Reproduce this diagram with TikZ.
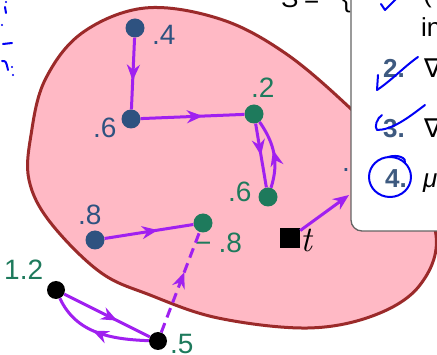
\documentclass[tikz,border=0pt]{standalone}
\usepackage{fontspec}
\setmainfont{Liberation Sans}
\newfontfamily\symfont{DejaVu Sans}
\newfontfamily\lmfont{Latin Modern Roman}
\usetikzlibrary{arrows.meta,decorations.markings}
\definecolor{blobfill}{RGB}{255,185,197}
\definecolor{blobline}{RGB}{155,42,42}
\definecolor{arrcol}{RGB}{160,32,240}
\definecolor{dotblue}{RGB}{46,82,128}
\definecolor{dotgreen}{RGB}{30,122,92}
\definecolor{numblue}{RGB}{62,90,128}
\definecolor{ink}{RGB}{0,0,245}
\definecolor{panelline}{RGB}{100,100,100}
\tikzset{
  bdot/.style={circle,fill=dotblue,inner sep=0pt,minimum size=19pt},
  gdot/.style={circle,fill=dotgreen,inner sep=0pt,minimum size=19pt},
  kdot/.style={circle,fill=black,inner sep=0pt,minimum size=18pt},
  sqnode/.style={rectangle,fill=black,inner sep=0pt,minimum size=20pt},
  lbl/.style={font=\fontsize{28}{28}\selectfont,inner sep=0pt,anchor=base west},
  paneltxt/.style={font=\fontsize{26}{26}\selectfont,inner sep=0pt,anchor=base west},
  edge/.style={draw=arrcol,line width=3pt},
  midarr/.style={postaction={decorate},decoration={markings,
     mark=at position #1 with {\arrow{Stealth[length=16pt,width=13pt]}}}},
  inkline/.style={draw=ink,line width=2pt,line cap=round,line join=round},
}
\begin{document}
\begin{tikzpicture}[x=1pt,y=1pt]
\clip (0,0) rectangle (437,-355);
\fill[white] (0,0) rectangle (437,-355);
% top text (cut off)
\node[paneltxt] (S) at (281,-8) {S};
\node[paneltxt] (eq) at (304,-8) {=};
\node[paneltxt] (br) at (342,-8) {\{};
% blob
\draw[fill=blobfill,draw=blobline,line width=3pt]
  plot[smooth cycle,tension=0.6] coordinates {
  (145,-8) (220,-19) (285,-53) (350,-108) (405,-165) (436,-235) (420,-285)
  (375,-315) (308,-328) (218,-318) (150,-295) (100,-272) (50,-222) (29,-180)
  (31,-135) (45,-80) (82,-33)};
% nodes
\node[bdot] (A) at (135,-28) {};
\node[bdot] (B) at (131,-119) {};
\node[gdot] (C) at (254,-114) {};
\node[gdot] (D) at (268,-197) {};
\node[bdot] (E) at (95,-240) {};
\node[gdot] (F) at (203,-223) {};
\node[kdot] (G) at (56,-290) {};
\node[kdot] (H) at (158,-341) {};
\node[sqnode] (T) at (290,-238) {};
% labels
\node[lbl,text=dotblue] (lA) at (152,-45) {.4};
\node[lbl,text=dotblue] (lB) at (93,-138) {.6};
\node[lbl,text=dotgreen] (lC) at (251,-98) {.2};
\node[lbl,text=dotgreen] (lD) at (228,-202) {.6};
\node[lbl,text=dotblue] (lE) at (78,-225) {.8};
\node[lbl,text=dotgreen] (lF) at (195,-253) {−\kern7pt.8};
\node[lbl,text=dotgreen] (lG) at (4,-280) {1.2};
\node[lbl,text=dotgreen] (lH) at (170,-354) {.5};
\node[inner sep=0pt,anchor=base west,font=\fontsize{36}{36}\selectfont\lmfont\itshape] (lT) at (300,-252) {t};
\node[lbl,text=dotblue] (frag) at (342,-172) {.};
% edges
\path[edge,midarr=0.6] (A) -- (B);
\path[edge,midarr=0.6] (B) -- (C);
\path[edge,midarr=0.5] (C) -- (D);
\path[edge,midarr=0.55] (D) to[out=72,in=-55] (C);
\path[edge,midarr=0.6] (E) -- (F);
\path[edge,dash pattern=on 10pt off 6pt,midarr=0.6] (H) -- (F);
\path[edge,midarr=0.62] (G) -- (H);
\path[edge,midarr=0.55] (H) to[out=178,in=-65] (G);
\coordinate (tend) at (349,-195);
\path[edge,-{Stealth[length=16pt,width=13pt]}] (T) -- (tend);
% overlay panel
\draw[fill=white,draw=panelline,line width=1.3pt,rounded corners=11pt]
  (351,40) rectangle (480,-231);
\node[paneltxt] (p1) at (423,-3) {(};
\node[paneltxt] (p1b) at (421,-37) {in};
\node[paneltxt,text=numblue,font=\fontsize{26}{26}\selectfont\bfseries] (n2) at (383,-78) {2.};
\node[paneltxt,font=\fontsize{26}{26}\selectfont\symfont] (g2) at (424,-78) {∇};
\node[paneltxt,text=numblue,font=\fontsize{26}{26}\selectfont\bfseries] (n3) at (383,-138) {3.};
\node[paneltxt,font=\fontsize{26}{26}\selectfont\symfont] (g3) at (424,-138) {∇};
\node[paneltxt,text=numblue,font=\fontsize{26}{26}\selectfont\bfseries] (n4) at (385,-188) {4.};
\node[paneltxt,font=\fontsize{26}{26}\selectfont\itshape] (m4) at (423,-188) {μ};
% handwriting
\draw[inkline] (5,-7) -- (6,-13);
\fill[ink] (6,-2) circle (1.2pt);
\fill[ink] (2,-25) circle (1.2pt);
\draw[inkline] (3,-44) -- (12,-43);
\draw[inkline] (2,-61) .. controls (6,-61) .. (8,-70);
\fill[ink] (12,-67) circle (1.2pt);
\fill[ink] (13,-75) circle (1.2pt);
\draw[inkline] (381,-4) -- (385,-10) -- (396,1);
\draw[inkline] (378,-75) -- (377,-90) .. controls (392,-80) and (405,-66) .. (418,-57);
\draw[inkline] (382,-115) .. controls (377,-118) and (374,-127) .. (377,-130)
  .. controls (392,-130) and (408,-118) .. (425,-105);
\draw[inkline] (390,-177) ellipse (21pt and 20pt);
\draw[inkline] (388,-157) .. controls (398,-154) and (407,-158) .. (405,-163);
\end{tikzpicture}
\end{document}
